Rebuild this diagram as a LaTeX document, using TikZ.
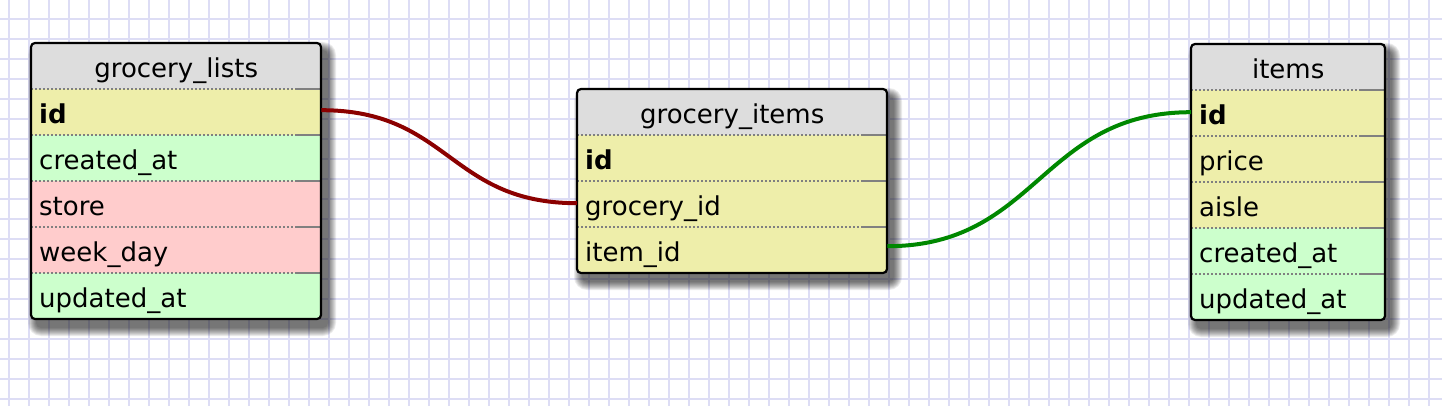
\documentclass[tikz,border=0pt]{standalone}
\usepackage{fontspec}
\setmainfont{DejaVu Sans}
\definecolor{hdr}{RGB}{221,221,221}
\definecolor{ylw}{RGB}{238,238,170}
\definecolor{grn}{RGB}{204,255,204}
\definecolor{pnk}{RGB}{255,204,204}
\definecolor{gridc}{RGB}{221,221,245}
\definecolor{sepc}{RGB}{128,128,128}
\definecolor{relred}{RGB}{139,0,0}
\definecolor{relgreen}{RGB}{0,136,0}
\tikzset{
  rowbox/.style={anchor=north west, minimum height=46pt, inner xsep=8pt, inner ysep=0pt,
    text height=24pt, text depth=2pt, align=left, font=\fontsize{26}{30}\selectfont},
  gridline/.style={gridc, line width=2pt},
  sepline/.style={sepc, line width=2pt, dash pattern=on 2pt off 2pt},
  sepsolid/.style={sepc, line width=2pt},
  border/.style={draw=black, line width=2.2pt, rounded corners=4pt},
  shadowlayer/.style={fill=black, fill opacity=0.08},
  relation/.style={line width=4pt}
}
\newcommand\erdtable[7]{%
  % #1 name, #2 x, #3 y, #4 width, #5 number of rows, #6 header, #7 rows i/text/colour
  \pgfmathsetmacro\erdtw{#4-16}%
  \pgfmathsetmacro\erdth{46*(#5+1)}%
  \foreach \e in {9,...,1} {
    \fill[shadowlayer, rounded corners=4pt+\e pt] (#2+6-\e,#3+8-\e) rectangle ++(#4+2*\e,\erdth+2*\e);
  }
  \begin{scope}
    \clip[rounded corners=4pt] (#2,#3) rectangle ++(#4,\erdth);
    \node[rowbox, fill=hdr, text width=\erdtw pt, align=center] (#1-0) at (#2,#3) {#6};
    \foreach \i/\t/\c in {#7} {
      \node[rowbox, fill=\c, text width=\erdtw pt] (#1-\i) at (#2,#3+46*\i) {\t};
    }
  \end{scope}
  \foreach \i in {1,...,#5} {
    \draw[sepline] (#2,#3+46*\i) -- ++(#4-24,0);
    \draw[sepsolid] (#2+#4-24,#3+46*\i) -- ++(24,0);
  }
  \draw[border] (#2,#3) rectangle ++(#4,\erdth);
}
\begin{document}
\begin{tikzpicture}[x=1pt, y=-1pt]
  \useasboundingbox (0,0) rectangle (1442,406);
  \fill[white] (0,0) rectangle (1442,406);
  \foreach \x in {9,29,...,1449} \draw[gridline] (\x,0) -- (\x,406);
  \foreach \y in {-1,19,...,419} \draw[gridline] (0,\y) -- (1442,\y);

  \erdtable{gl}{31}{43}{290}{5}{grocery\_lists}{1/\textbf{id}/ylw, 2/created\_at/grn, 3/store/pnk, 4/week\_day/pnk, 5/updated\_at/grn}
  \erdtable{gi}{577}{89}{310}{3}{grocery\_items}{1/\textbf{id}/ylw, 2/grocery\_id/ylw, 3/item\_id/ylw}
  \erdtable{it}{1191}{44}{194}{5}{items}{1/\textbf{id}/ylw, 2/price/ylw, 3/aisle/ylw, 4/created\_at/grn, 5/updated\_at/grn}

  \draw[relation, relred] ([yshift=2pt]gl-1.east) .. controls +(128,0) and +(-128,0) .. ([yshift=1pt]gi-2.west);
  \draw[relation, relgreen] ([yshift=4pt]gi-3.east) .. controls +(150,0) and +(-150,0) .. ([yshift=1pt]it-1.west);
\end{tikzpicture}
\end{document}
